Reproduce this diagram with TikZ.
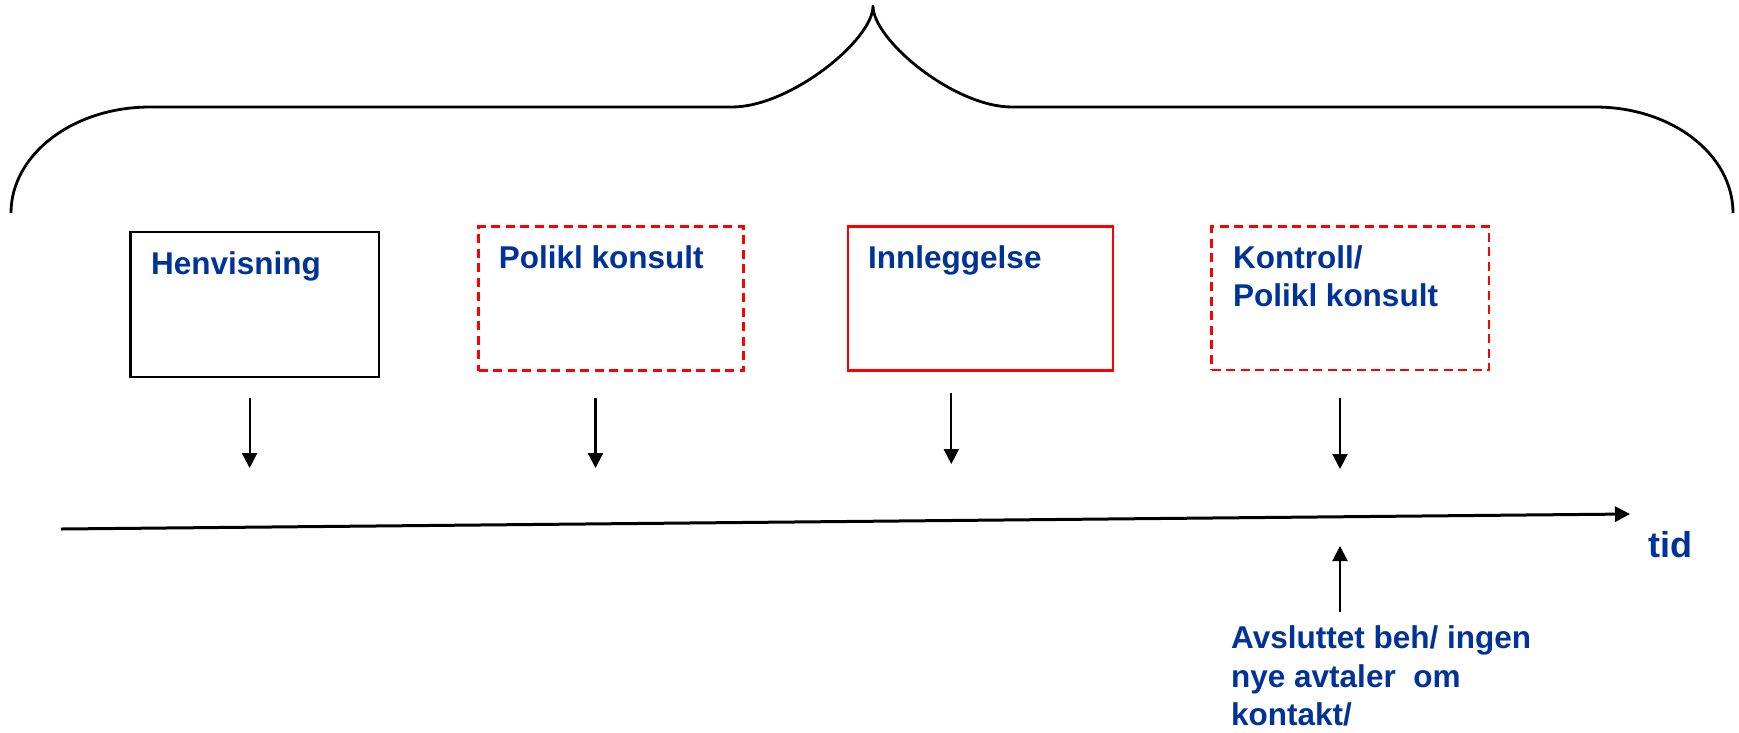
\documentclass[tikz,border=0pt]{standalone}
\usepackage{fontspec}
\setmainfont{Liberation Sans}
\usetikzlibrary{arrows.meta}
\definecolor{txtblue}{RGB}{0,51,153}
\tikzset{
  lbl/.style={anchor=base west, inner sep=0pt, text=txtblue, font=\fontsize{31.5}{38.5}\selectfont\bfseries, align=left},
  plainbox/.style={draw=black, line width=2.8pt},
  solidred/.style={draw=red, line width=2.8pt},
  dashred/.style={draw=red, line width=2.5pt, dash pattern=on 9pt off 5.5pt},
  evt/.style={line width=2.2pt, -{Triangle[length=15pt,width=15pt]}},
  axis/.style={line width=3pt, -{Triangle[length=15pt,width=15pt]}},
  brace/.style={line width=2.8pt, line join=round}
}
\begin{document}
\begin{tikzpicture}[x=1pt, y=-1pt]
\useasboundingbox (0,0) rectangle (1739,732);

% curly brace spanning the episode
\draw[brace] (11,213) .. controls (11,154.5) and (73,107) .. (150,107)
  -- (732,107) .. controls (790,107) and (873,40) .. (873,6)
  .. controls (873,40) and (954,107) .. (1012,107)
  -- (1595,107) .. controls (1672,107) and (1733,154.5) .. (1733,213);

% event boxes
\node[plainbox, minimum width=248.5pt, minimum height=145pt, inner sep=0pt] (henv) at (254.75,304.5) {};
\node[dashred, minimum width=265pt, minimum height=144pt, inner sep=0pt] (polikl) at (611.2,298.7) {};
\node[solidred, minimum width=265pt, minimum height=144pt, inner sep=0pt] (innl) at (980.4,298.7) {};
\node[dashred, minimum width=277.5pt, minimum height=143.5pt, inner sep=0pt] (kontr) at (1350.3,298.4) {};

\node[lbl] (thenv) at (151,274) {Henvisning};
\node[lbl] (tpolikl) at (498.7,268) {Polikl konsult};
\node[lbl] (tinnl) at (868,268) {Innleggelse};
% multi-line labels: the base anchor sits on the last line
\node[lbl] (tkontr) at (1233,306.5) {Kontroll/\\Polikl konsult};

% arrows onto the time axis
\coordinate (a1s) at (249.6,398); \coordinate (a1e) at (249.6,468);
\coordinate (a2s) at (595.5,398); \coordinate (a2e) at (595.5,468);
\coordinate (a3s) at (951.3,393); \coordinate (a3e) at (951.3,464);
\coordinate (a4s) at (1340,398); \coordinate (a4e) at (1340,469);
\draw[evt] (a1s) -- (a1e);
\draw[evt] (a2s) -- (a2e);
\draw[evt] (a3s) -- (a3e);
\draw[evt] (a4s) -- (a4e);

% time axis
\coordinate (t0) at (61,529);
\coordinate (t1) at (1630,514);
\draw[axis] (t0) -- (t1);
\node[lbl, font=\fontsize{36}{42}\selectfont\bfseries] (tid) at (1648,557) {tid};

% end of treatment
\node[lbl] (slutt) at (1231,725.5) {Avsluttet beh/ ingen\\nye avtaler\ \ om\\kontakt/};
\coordinate (e0) at (1340,612);
\coordinate (e1) at (1340,546);
\draw[evt] (e0) -- (e1);
\end{tikzpicture}
\end{document}
